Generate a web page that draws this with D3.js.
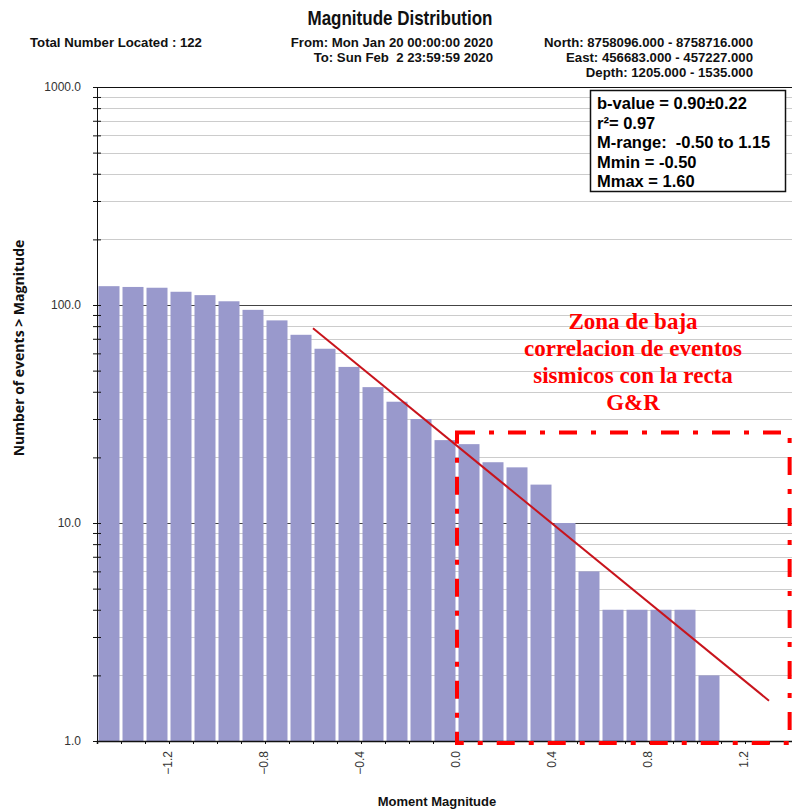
<!DOCTYPE html>
<meta charset="utf-8">
<head>
	<title>Magnitude Distribution</title>
</head>

<style>
body{
	margin: 0;
	background: #fff;
}
svg{
	display: block;
}
.hdr{
	font-family: "Liberation Sans", Arial, sans-serif;
	font-weight: bold;
	fill: #111;
}
.tick-lbl{
	font-family: "Liberation Sans", Arial, sans-serif;
	font-size: 12px;
	fill: #333;
}
.legend text{
	font-family: "Liberation Sans", Arial, sans-serif;
	font-weight: bold;
	font-size: 16.5px;
	fill: #000;
	white-space: pre;
}
.zone-txt{
	font-family: "Liberation Serif", "Times New Roman", serif;
	font-weight: bold;
	font-size: 23px;
	fill: #ff0000;
}
</style>

<body>
<svg width="792" height="811"></svg>

<script src="https://cdnjs.cloudflare.com/ajax/libs/d3/7.8.5/d3.min.js"></script>
<script>

// cumulative counts, one bar per 0.1 magnitude bin (bin start)
var mags = [-1.5, -1.4, -1.3, -1.2, -1.1, -1.0, -0.9, -0.8, -0.7, -0.6,
	-0.5, -0.4, -0.3, -0.2, -0.1, 0.0, 0.1, 0.2, 0.3, 0.4,
	0.5, 0.6, 0.7, 0.8, 0.9, 1.0, 1.1, 1.2, 1.3];
var counts = [122, 121, 120, 115, 111, 104, 95, 85, 73, 63,
	52, 42, 36, 30, 24, 23, 19, 18, 15, 10,
	6, 4, 4, 4, 4, 2, 1, 1, 1];

var xTickLabels = [-1.2, -0.8, -0.4, 0.0, 0.4, 0.8, 1.2];
var yMajor = [1, 10, 100, 1000];

// G-R fit line end points (magnitude, N)
var fitM = [-0.6, 1.3];
var fitN = [78.3, 1.53];

// zone of low correlation (magnitude / N extents)
var zoneM = [0.0, 1.386];
var zoneN = [1, 26];

var legendLines = ['b-value = 0.90\u00b10.22', 'r\u00b2= 0.97', 'M-range:  -0.50 to 1.15', 'Mmin = -0.50', 'Mmax = 1.60'];
var zoneLines = ['Zona de baja', 'correlacion de eventos', 'sismicos con la recta', 'G&R'];

var svg = d3.select('svg');

var x = d3.scaleLinear().domain([-1.5, 1.4]).range([97, 793]);
var y = d3.scaleLog().domain([1, 1000]).range([741, 87]);

// gridlines
var minor = [];
[1, 10, 100].forEach(function(d){
	for (var k = 2; k <= 9; k++) minor.push(d*k);
});

svg.append('g').selectAll('line')
	.data(minor)
	.enter()
	.append('line')
	.attr('x1', x(-1.5)).attr('x2', 792)
	.attr('y1', function(d){ return Math.round(y(d)) + 0.5; })
	.attr('y2', function(d){ return Math.round(y(d)) + 0.5; })
	.attr('stroke', '#cccccc');

svg.append('g').selectAll('line')
	.data([10, 100, 1000])
	.enter()
	.append('line')
	.attr('x1', x(-1.5)).attr('x2', 792)
	.attr('y1', function(d){ return Math.round(y(d)) + 0.5; })
	.attr('y2', function(d){ return Math.round(y(d)) + 0.5; })
	.attr('stroke', function(d){ return d == 1000 ? '#111' : '#444'; });

// bars
svg.append('g').selectAll('rect')
	.data(mags)
	.enter()
	.append('rect')
	.attr('x', function(d){ return x(d) + 1.5; })
	.attr('width', function(d){ return x(d + 0.1) - x(d) - 3; })
	.attr('y', function(d, i){ return y(counts[i]); })
	.attr('height', function(d, i){ return y(1) - y(counts[i]); })
	.attr('fill', '#9999cc');

// y axis
var yAxis = d3.axisLeft(y)
	.tickValues(minor.concat(yMajor))
	.tickSize(4)
	.tickFormat(function(d){ return yMajor.indexOf(d) >= 0 ? d3.format('.1f')(d) : ''; });

var gy = svg.append('g')
	.attr('transform', 'translate(' + x(-1.5) + ',0)')
	.call(yAxis);
gy.select('.domain').attr('stroke', '#111');
gy.selectAll('.tick line').attr('x2', -4).attr('x1', 4).attr('stroke', '#111');
gy.selectAll('.tick text')
	.attr('class', 'tick-lbl')
	.attr('x', -16);
gy.attr('font-size', null).attr('font-family', null);

// x axis
var xAxis = d3.axisBottom(x)
	.tickValues(mags.concat([1.4]))
	.tickSize(3)
	.tickFormat('');
var gx = svg.append('g')
	.attr('transform', 'translate(0,' + y(1) + ')')
	.call(xAxis);
gx.select('.domain').attr('stroke', '#111').attr('stroke-width', 1.5);
gx.selectAll('.tick line').attr('stroke', '#111');

svg.append('g').selectAll('text')
	.data(xTickLabels)
	.enter()
	.append('text')
	.attr('class', 'tick-lbl')
	.attr('transform', function(d){ return 'translate(' + (x(d) - 1) + ',751) rotate(-90)'; })
	.attr('text-anchor', 'end')
	.attr('dy', '0.35em')
	.text(function(d){ return d3.format('.1f')(d); });

// fit line
svg.append('line')
	.attr('x1', x(fitM[0])).attr('y1', y(fitN[0]))
	.attr('x2', x(fitM[1])).attr('y2', y(fitN[1]))
	.attr('stroke', '#c8141c')
	.attr('stroke-width', 2);

// zone rectangle
svg.append('rect')
	.attr('x', x(zoneM[0]))
	.attr('y', y(zoneN[1]))
	.attr('width', x(zoneM[1]) - x(zoneM[0]))
	.attr('height', y(zoneN[0]) + 2 - y(zoneN[1]))
	.attr('fill', 'none')
	.attr('stroke', '#ff0000')
	.attr('stroke-width', 4)
	.attr('stroke-dasharray', '18,14,5,14');

svg.append('g').selectAll('text')
	.data(zoneLines)
	.enter()
	.append('text')
	.attr('class', 'zone-txt')
	.attr('x', 633)
	.attr('y', function(d, i){ return 329 + i*27; })
	.attr('text-anchor', 'middle')
	.text(function(d){ return d; });

// legend box
var lg = svg.append('g').attr('class', 'legend');
lg.append('rect')
	.attr('x', 590.5).attr('y', 90.5)
	.attr('width', 195).attr('height', 101)
	.attr('fill', '#fff')
	.attr('stroke', '#111')
	.attr('stroke-width', 1.5);
lg.selectAll('text')
	.data(legendLines)
	.enter()
	.append('text')
	.attr('x', 597)
	.attr('y', function(d, i){ return 109 + i*19.5; })
	.text(function(d){ return d; });

// header
svg.append('text').attr('class', 'hdr')
	.attr('transform', 'translate(400,25) scale(0.85,1)')
	.attr('text-anchor', 'middle')
	.style('font-size', '20px')
	.text('Magnitude Distribution');

var hdrLines = [
	{t: 'Total Number Located : 122', x: 30, y: 47, a: 'start'},
	{t: 'From: Mon Jan 20 00:00:00 2020', x: 493, y: 47, a: 'end'},
	{t: 'To: Sun Feb\u00a0 2 23:59:59 2020', x: 493, y: 62, a: 'end'},
	{t: 'North: 8758096.000 - 8758716.000', x: 753, y: 47, a: 'end'},
	{t: 'East: 456683.000 - 457227.000', x: 753, y: 62, a: 'end'},
	{t: 'Depth: 1205.000 - 1535.000', x: 753, y: 77, a: 'end'}
];
svg.append('g').selectAll('text')
	.data(hdrLines)
	.enter()
	.append('text')
	.attr('class', 'hdr')
	.style('font-size', '13.2px')
	.attr('x', function(d){ return d.x; })
	.attr('y', function(d){ return d.y; })
	.attr('text-anchor', function(d){ return d.a; })
	.text(function(d){ return d.t; });

// axis titles
svg.append('text')
	.attr('transform', 'translate(24,348) rotate(-90)')
	.attr('text-anchor', 'middle')
	.style('font-family', '"Open Sans", sans-serif')
	.style('font-weight', 'bold')
	.style('font-size', '14px')
	.style('fill', '#111')
	.text('Number of events > Magnitude');

svg.append('text')
	.attr('x', 437).attr('y', 806)
	.attr('text-anchor', 'middle')
	.style('font-family', '"Liberation Sans", Arial, sans-serif')
	.style('font-weight', 'bold')
	.style('font-size', '13px')
	.style('fill', '#111')
	.text('Moment Magnitude');

</script>

</body>
</html>
